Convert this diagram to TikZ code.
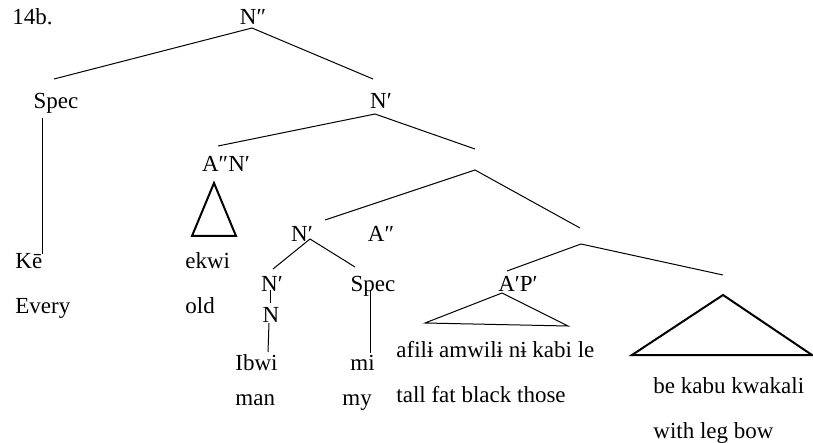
\documentclass[tikz,border=0pt]{standalone}
\usepackage{fontspec}
\setmainfont{Liberation Serif}
\usetikzlibrary{positioning}

\begin{document}
\begin{tikzpicture}[x=0.5pt, y=-0.5pt, font=\fontsize{11.5}{13}\selectfont,
    cat/.style={inner sep=0pt, anchor=base},
    word/.style={inner sep=0pt, anchor=base west},
    branch/.style={line width=0.5pt},
    roof/.style={line width=1pt, line join=miter}]
  \useasboundingbox (0,0) rectangle (813,443);
  \node[word] (ex) at (12,25) {14b.};
  % category labels
  \node[cat] (nn)   at (253,25)  {N″};
  \node[cat] (spec) at (56,109)  {Spec};
  \node[cat] (nb)   at (381,109) {N′};
  \node[cat] (an)   at (226,172) {A″N′};
  \node[cat] (nl)   at (302,242) {N′};
  \node[cat] (aa)   at (381,242) {A″};
  \node[cat] (nll)  at (272,292) {N′};
  \node[cat] (sp2)  at (373,292) {Spec};
  \node[cat] (n)    at (271,322) {N};
  \node[cat] (ap)   at (518,291) {A′P′};
  % empty branch points
  \coordinate (j1-hi) at (475,149);
  \coordinate (j1-lo) at (475,170);
  \coordinate (j2-hi) at (580,228);
  \coordinate (j2-lo) at (581,244);
  % words and glosses
  \node[word] (ke)    at (15,268)  {Kē};
  \node[word] (every) at (15,313)  {Every};
  \node[word] (ekwi)  at (185,268) {ekwi};
  \node[word] (old)   at (185,313) {old};
  \node[word] (ibwi)  at (235,370) {Ibwi};
  \node[word] (man)   at (235,405) {man};
  \node[word] (mi)    at (350,370) {mi};
  \node[word] (my)    at (342,405) {my};
  \node[word] (afili) at (396,357) {afilɨ amwilɨ nɨ kabi le};
  \node[word] (tall)  at (396,402) {tall fat black those};
  \node[word] (be)    at (653,393) {be kabu kwakali};
  \node[word] (with)  at (653,438) {with leg bow};
  % line ends next to the labels
  \coordinate (nn-lo)   at (252,28);
  \coordinate (spec-hi) at (54,79);
  \coordinate (nb-hi)   at (373,79);
  \coordinate (spec-lo) at (42,118);
  \coordinate (ke-hi)   at (42,254);
  \coordinate (nb-lo)   at (375,114);
  \coordinate (an-hi)   at (218,146);
  \coordinate (nl-hi)   at (325,220);
  \coordinate (ap-hi)   at (507,271);
  \coordinate (rt-hi)   at (723,275);
  \coordinate (nl-lo)   at (310,239);
  \coordinate (nll-hi)  at (273,269);
  \coordinate (sp2-hi)  at (355,267);
  \coordinate (nll-lo)  at (270,290);
  \coordinate (n-hi)    at (270,303);
  \coordinate (n-lo)    at (269,323);
  \coordinate (ibwi-hi) at (268,352);
  \coordinate (sp2-lo)  at (370,290);
  \coordinate (mi-hi)   at (370,353);
  % branches
  \draw[branch] (spec-hi) -- (nn-lo) -- (nb-hi);
  \draw[branch] (spec-lo) -- (ke-hi);
  \draw[branch] (an-hi) -- (nb-lo) -- (j1-hi);
  \draw[branch] (nl-hi) -- (j1-lo) -- (j2-hi);
  \draw[branch] (ap-hi) -- (j2-lo) -- (rt-hi);
  \draw[branch] (nll-hi) -- (nl-lo) -- (sp2-hi);
  \draw[branch] (nll-lo) -- (n-hi);
  \draw[branch] (n-lo) -- (ibwi-hi);
  \draw[branch] (sp2-lo) -- (mi-hi);
  % roofs
  \draw[roof] (214,183) -- (192,236) -- (236,236) -- cycle;
  \draw[branch] (502,293) -- (425,323) -- (568,326) -- cycle;
  \draw[roof] (723,295) -- (632,355) -- (812,355) -- cycle;
\end{tikzpicture}
\end{document}
